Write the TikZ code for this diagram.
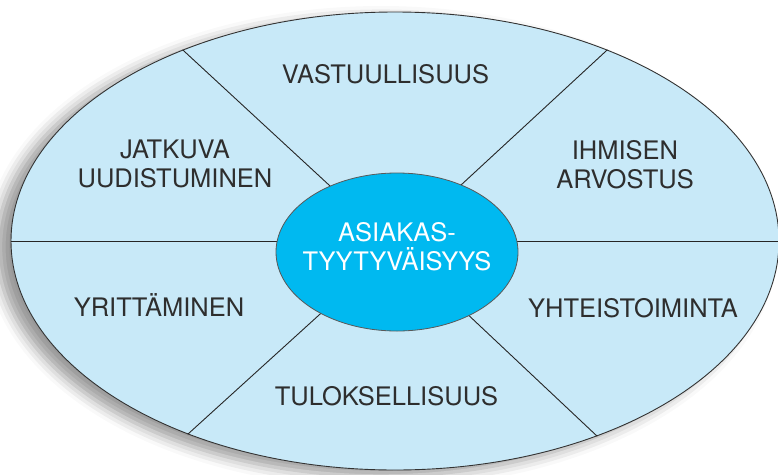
\documentclass[tikz,border=0pt]{standalone}
\usepackage{fontspec}
\setmainfont{TeX Gyre Heros}
\usepackage{tikz}
\usetikzlibrary{shapes.geometric,shadows.blur}
\definecolor{vaalea}{HTML}{C8E9F8}
\definecolor{syaani}{HTML}{00B9F0}
\definecolor{teksti}{HTML}{2E2E2E}

\begin{document}
\begin{tikzpicture}[x=1pt,y=-1pt,
    arvo/.style={text=teksti,font=\fontsize{25.5}{29}\selectfont,align=center,inner sep=0pt},
    raja/.style={draw=black!85,line width=0.9pt}]
\useasboundingbox (0,0) rectangle (778,474);
\clip (0,0) rectangle (778,474);
\node[ellipse,draw=black!80,line width=0.9pt,fill=vaalea,minimum width=768pt,minimum height=458pt,inner sep=0pt,
    blur shadow={shadow xshift=-14pt,shadow yshift=-6pt,shadow blur radius=12pt,shadow opacity=40}] (ulko) at (395,241) {};
\coordinate (keski) at (395,246);
\draw[raja] (ulko.west) -- (ulko.east);
\draw[raja] (keski) -- (ulko.138.3);
\draw[raja] (keski) -- (ulko.42.2);
\draw[raja] (keski) -- (ulko.223.2);
\draw[raja] (keski) -- (ulko.316.5);
\node[ellipse,draw=black!65,line width=0.8pt,fill=syaani,minimum width=242pt,minimum height=158pt,inner sep=0pt] (asiakas) at (397,252) {};
\node[arvo,text=white] (tyyt) at (397,247) {ASIAKAS-\\TYYTYVÄISYYS};
%\node[arvo] (vast) at (385,74) {VASTUULLISUUS};
\node[arvo,anchor=base] (vast) at (385.5,83) {VASTUULLISUUS};
\node[arvo] (jatk) at (175,164) {JATKUVA\\UUDISTUMINEN};
\node[arvo] (ihmi) at (625,165) {IHMISEN\\ARVOSTUS};
\node[arvo,anchor=base] (yrit) at (159,316) {YRITTÄMINEN};
\node[arvo,anchor=base] (yhte) at (633,317) {YHTEISTOIMINTA};
\node[arvo,anchor=base] (tulo) at (386.5,405) {TULOKSELLISUUS};
\end{tikzpicture}
\end{document}
